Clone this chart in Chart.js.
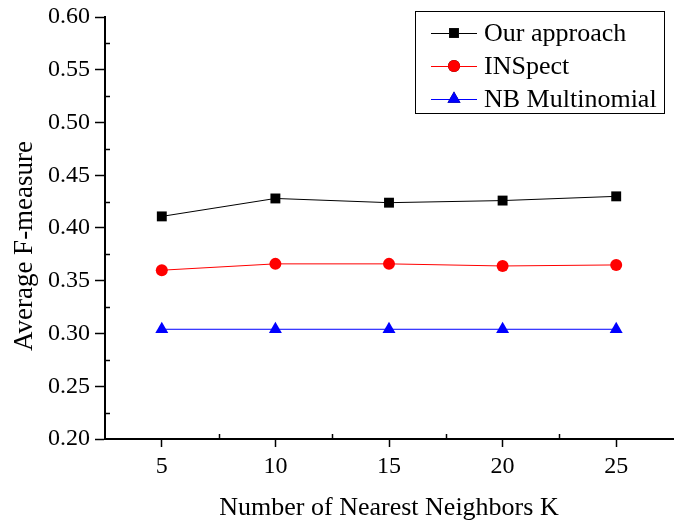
<!DOCTYPE html>
<html>
<head>
<meta charset="utf-8">
<script src="https://cdn.jsdelivr.net/npm/chart.js@4.4.1/dist/chart.umd.min.js"></script>
<style>
  html, body { margin: 0; padding: 0; background: #fff; }
  #wrap { width: 684px; height: 521px; position: relative; }
</style>
</head>
<body>
<div id="wrap"><canvas id="c" width="684" height="521"></canvas></div>
<script>
const kValues = [5, 10, 15, 20, 25];
const ourApproach = [0.411, 0.428, 0.424, 0.426, 0.430];
const inspect = [0.360, 0.366, 0.366, 0.364, 0.365];
const nbMultinomial = [0.304, 0.304, 0.304, 0.304, 0.304];
const seriesNames = ['Our approach', 'INSpect', 'NB Multinomial'];
const yTickValues = [0.20, 0.25, 0.30, 0.35, 0.40, 0.45, 0.50, 0.55, 0.60];
const xTitle = 'Number of Nearest Neighbors K';
const yTitle = 'Average F-measure';

const FONT = '"Liberation Serif", "Times New Roman", serif';

function pts(arr) { return kValues.map((k, i) => ({ x: k, y: arr[i] })); }

const minorTicks = {
  id: 'minorTicks',
  afterDraw(chart) {
    const ctx = chart.ctx;
    const xs = chart.scales.x, ys = chart.scales.y;
    const area = chart.chartArea;
    ctx.save();
    ctx.strokeStyle = '#000';
    ctx.lineWidth = 1.5;
    for (let i = 0; i < kValues.length - 1; i++) {
      const v = (kValues[i] + kValues[i + 1]) / 2;
      const px = Math.round(xs.getPixelForValue(v)) + 0.5;
      ctx.beginPath(); ctx.moveTo(px, area.bottom); ctx.lineTo(px, area.bottom - 5); ctx.stroke();
    }
    for (let i = 0; i < yTickValues.length - 1; i++) {
      const v = (yTickValues[i] + yTickValues[i + 1]) / 2;
      const py = Math.round(ys.getPixelForValue(v)) + 0.5;
      ctx.beginPath(); ctx.moveTo(area.left, py); ctx.lineTo(area.left + 5, py); ctx.stroke();
    }
    // y-axis title (placed slightly below the axis centre, as in the original)
    ctx.save();
    ctx.translate(25, (area.top + area.bottom) / 2 + 18);
    ctx.rotate(-Math.PI / 2);
    ctx.fillStyle = '#000';
    ctx.font = '27px ' + FONT;
    ctx.textAlign = 'center';
    ctx.textBaseline = 'middle';
    ctx.fillText(yTitle, 0, 0);
    ctx.restore();
    ctx.restore();
  }
};

const boxLegend = {
  id: 'boxLegend',
  afterDraw(chart) {
    const ctx = chart.ctx;
    const x0 = 415, y0 = 11, w = 249, h = 102;
    ctx.save();
    ctx.fillStyle = '#fff';
    ctx.fillRect(x0, y0, w, h);
    ctx.strokeStyle = '#000';
    ctx.lineWidth = 1;
    ctx.strokeRect(x0 + 0.5, y0 + 0.5, w, h);
    const rows = [33, 66, 99];
    chart.data.datasets.forEach((ds, i) => {
      const y = rows[i];
      ctx.strokeStyle = ds.borderColor;
      ctx.lineWidth = 1;
      ctx.beginPath(); ctx.moveTo(431, y + 0.5); ctx.lineTo(477, y + 0.5); ctx.stroke();
      Chart.helpers.drawPoint(ctx, {
        pointStyle: ds.pointStyle, radius: ds.pointRadius, rotation: 0, borderWidth: 0
      }, 454, y);
      ctx.fillStyle = ds.pointBackgroundColor;
      ctx.fill();
      ctx.fillStyle = '#000';
      ctx.font = '26px ' + FONT;
      ctx.textBaseline = 'middle';
      ctx.textAlign = 'left';
      ctx.fillText(ds.label, 484, y + 1);
    });
    ctx.restore();
  }
};

const chart = new Chart(document.getElementById('c'), {
  type: 'line',
  data: {
    datasets: [
      { label: seriesNames[0], data: pts(ourApproach), borderColor: '#000000', backgroundColor: '#000000',
        pointBackgroundColor: '#000000', pointBorderColor: '#000000', pointStyle: 'rect', pointRadius: 7, borderWidth: 1, pointBorderWidth: 0 },
      { label: seriesNames[1], data: pts(inspect), borderColor: '#ff0000', backgroundColor: '#ff0000',
        pointBackgroundColor: '#ff0000', pointBorderColor: '#ff0000', pointStyle: 'circle', pointRadius: 6, borderWidth: 1, pointBorderWidth: 0 },
      { label: seriesNames[2], data: pts(nbMultinomial), borderColor: '#0000ff', backgroundColor: '#0000ff',
        pointBackgroundColor: '#0000ff', pointBorderColor: '#0000ff', pointStyle: 'triangle', pointRadius: 7.5, borderWidth: 1, pointBorderWidth: 0 }
    ]
  },
  options: {
    responsive: false,
    animation: false,
    layout: { padding: { left: 0, right: 11, top: 17, bottom: 0 } },
    plugins: { legend: { display: false }, tooltip: { enabled: false } },
    scales: {
      x: {
        type: 'linear',
        min: kValues[0] - 2.5,
        max: kValues[kValues.length - 1] + 2.5,
        afterBuildTicks: (s) => { s.ticks = kValues.map(v => ({ value: v })); },
        afterFit: (s) => { s.height = 82; s.paddingLeft = 0; s.paddingRight = 0; },
        grid: { display: true, drawOnChartArea: false, drawTicks: true, tickLength: 8, color: '#000', tickWidth: 1.5 },
        border: { display: true, color: '#000', width: 2 },
        ticks: { color: '#000', font: { family: FONT, size: 24 }, padding: 5, maxRotation: 0,
          callback: (v) => String(v) },
        title: { display: true, text: xTitle, color: '#000', font: { family: FONT, size: 26, lineHeight: 1 }, padding: { top: 0, bottom: 0 } }
      },
      y: {
        min: yTickValues[0],
        max: yTickValues[yTickValues.length - 1],
        afterBuildTicks: (s) => { s.ticks = yTickValues.map(v => ({ value: v })); },
        afterFit: (s) => { s.width = 105; s.paddingTop = 0; s.paddingBottom = 0; },
        grid: { display: true, drawOnChartArea: false, drawTicks: true, tickLength: 10, color: '#000', tickWidth: 1.5 },
        border: { display: true, color: '#000', width: 2 },
        ticks: { color: '#000', font: { family: FONT, size: 24 }, padding: 5,
          callback: (v) => Number(v).toFixed(2) },
        title: { display: false }
      }
    }
  },
  plugins: [minorTicks, boxLegend]
});
</script>
</body>
</html>
